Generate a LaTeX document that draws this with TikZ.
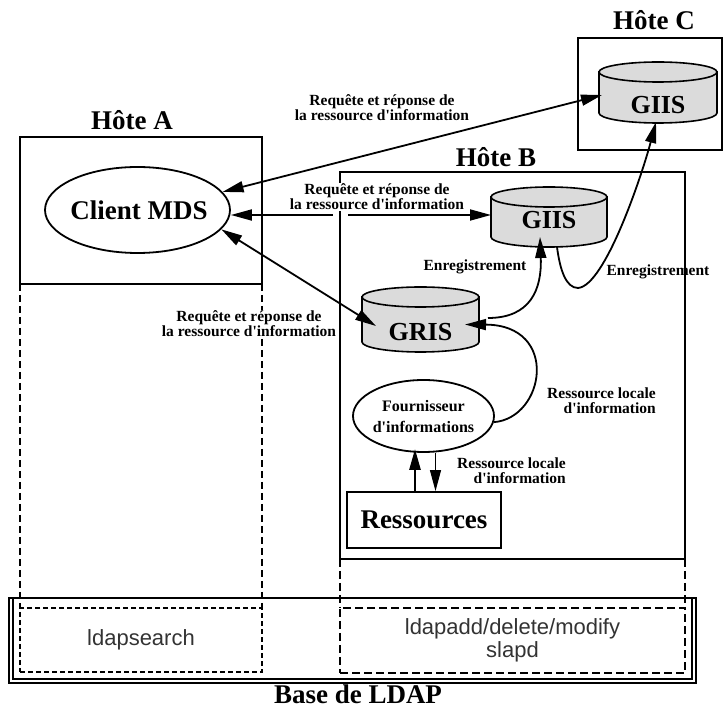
\documentclass[tikz,border=0pt]{standalone}
\usepackage{fontspec}
\setmainfont{Liberation Serif}[Ligatures=TeXOff]
\newfontfamily\ldapsans{Liberation Sans}
\usetikzlibrary{arrows.meta,shapes.geometric,calc}

\newcommand\mybig{\fontsize{27}{30}\selectfont\bfseries}
\newcommand\mygiis{\fontsize{26}{30}\selectfont\bfseries}
\newcommand\mylbl{\fontsize{15.5}{15}\selectfont\bfseries}
\newcommand\myfour{\fontsize{16}{21}\selectfont\bfseries}
\newcommand\mysans{\ldapsans\fontsize{22}{23}\selectfont}

% name, x1, y1, x2, y2, text, text y
\newcommand\dbcyl[7]{%
  \pgfmathsetmacro\cylcx{(#2+#4)/2}%
  \pgfmathsetmacro\cylrx{(#4-#2)/2}%
  \filldraw[cyl] (#2,{#3+10}) -- (#2,{#5-10})
    .. controls (#2,{#5-4.48}) and ({\cylcx-0.5523*\cylrx},#5) .. (\cylcx,#5)
    .. controls ({\cylcx+0.5523*\cylrx},#5) and (#4,{#5-4.48}) .. (#4,{#5-10})
    -- (#4,{#3+10}) -- cycle;
  \filldraw[cyl] (\cylcx,{#3+10}) ellipse [x radius=\cylrx pt, y radius=10pt];
  \node[inner sep=0, outer sep=0, minimum width={(#4-#2)*1pt}, minimum height={(#5-#3)*1pt}] (#1) at (\cylcx,{(#3+#5)/2}) {};
  \node[font=\mygiis, inner sep=0] (#1-t) at (\cylcx,#7) {#6};
}

\tikzset{
  cyl/.style={fill=black!14, draw=black, line width=1.6pt},
  hostbox/.style={draw, line width=2pt, inner sep=0, outer sep=0},
  arr/.style={line width=1.8pt},
  lbl/.style={font=\mylbl, align=center, inner sep=1pt},
  dashA/.style={line width=1.3pt, dash pattern=on 7pt off 4pt},
  dashAbox/.style={draw, line width=2pt, dash pattern=on 5pt off 3pt, inner sep=0, outer sep=0},
  dashB/.style={line width=1.1pt, dash pattern=on 8pt off 4pt},
  dashBbox/.style={draw, line width=1.1pt, dash pattern=on 8pt off 4pt, inner sep=0, outer sep=0},
}

\begin{document}
\begin{tikzpicture}[x=1pt,y=-1pt, >={Triangle[length=21pt,width=11pt]}]
\useasboundingbox (0,0) rectangle (724,708);

% LDAP base
\node[draw, line width=1.2pt, minimum width=687pt, minimum height=85pt, inner sep=0, outer sep=0] (base) at (352.5,640.5) {};
\node[draw, line width=1.2pt, minimum width=679pt, minimum height=81pt, inner sep=0, outer sep=0] (baseIn) at (352.5,638.5) {};
\node[font=\mybig, inner sep=0] (baseT) at (358,694) {Base de LDAP};

\node[dashAbox, minimum width=242pt, minimum height=64pt, font=\mysans, text=black!80] (lsearch) at (141,640) {ldapsearch};
\node[dashBbox, minimum width=345pt, minimum height=65pt, font=\mysans, text=black!80, align=center] (ladd) at (512.5,640.5) {ldapadd/delete/modify\\slapd};

% shapes
\node[draw, ellipse, line width=1.8pt, minimum width=185pt, minimum height=86pt, inner sep=0] (client) at (137.5,210) {};
\node[font=\mybig, inner sep=0] (clientT) at (139,210) {Client MDS};

\dbcyl{giisC}{599}{62}{717}{123}{GIIS}{105}
\dbcyl{giisB}{491}{187}{607}{247}{GIIS}{220}
\dbcyl{gris}{362}{287}{479}{352}{GRIS}{332}

\node[draw, ellipse, line width=1.8pt, minimum width=141pt, minimum height=72pt, inner sep=0] (fourn) at (423.5,416) {};
\node[font=\myfour, align=center, inner sep=0] (fournT) at (423.5,416.5) {Fournisseur\\d'informations};

\node[draw, line width=1.8pt, minimum width=154pt, minimum height=56pt, inner sep=0, font=\mybig] (res) at (424,520) {Ressources};

% connectors
\draw[arr,<->] (client.12) -- ([xshift=3pt,yshift=-2.5pt]giisC.west);
\draw[arr,<->] ([yshift=-5pt]client.east) -- ([yshift=-5pt]client.east -| giisB.west);
\draw[arr,<->] (client.-13) -- ([xshift=14pt,yshift=-6.5pt]gris.west);
\draw[white, line width=4pt] (333,215) -- (348,215);

\draw[arr,->] ([xshift=9pt,yshift=1.5pt]gris.east) .. controls (530,318) and (542,290) .. ([xshift=-9pt,yshift=10pt]giisB.south);
\draw[arr,->] ([xshift=8pt]giisB.south) .. controls (560,270) and (566,288) .. (578,288)
   .. controls (605,286) and (642,175) .. ([xshift=-2pt,yshift=1pt]giisC.south);
\draw[arr,->] (fourn.-5) .. controls (545,418) and (560,325) .. ([xshift=-14pt,yshift=-5pt]gris.east);
\draw[line width=2.5pt,->] ([xshift=-9pt]res.north) -- ([xshift=-9pt,yshift=4pt]res.north |- fourn.south);
\draw[line width=1.2pt,->] ([xshift=12pt]fourn.south) -- ([xshift=12pt]fourn.south |- res.north);

% hosts
\node[hostbox, minimum width=242pt, minimum height=147pt] (hostA) at (141,210.5) {};
\node[hostbox, minimum width=345pt, minimum height=387pt] (hostB) at (512.5,365.5) {};
\node[hostbox, minimum width=144pt, minimum height=112pt] (hostC) at (650,94) {};
\node[font=\mybig, inner sep=0] (hostAt) at (132,120) {Hôte A};
\node[font=\mybig, inner sep=0] (hostBt) at (496,157) {Hôte B};
\node[font=\mybig, inner sep=0] (hostCt) at (654,20) {Hôte C};

\draw[dashA] (hostA.south west) -- (hostA.south west |- lsearch.north);
\draw[dashA] (hostA.south east) -- (hostA.south east |- lsearch.north);
\draw[dashB] (hostB.south west) -- (hostB.south west |- ladd.north);
\draw[dashB] (hostB.south east) -- (hostB.south east |- ladd.north);

% labels
\node[lbl] (l1) at (382,107.5) {Requête et réponse de\\la ressource d'information};
\node[lbl, fill=white] (l2) at (377,197) {Requête et réponse de\\la ressource d'information};
\node[lbl, fill=white] (l3) at (249,324) {Requête et réponse de\\la ressource d'information};
\node[lbl] (l4) at (475,267) {Enregistrement};
\node[lbl] (l5) at (658,272) {Enregistrement};
\node[lbl, align=right, anchor=east] (l6) at (657,400.5) {Ressource locale\\d'information};
\node[lbl, align=right, anchor=east] (l7) at (567,470.5) {Ressource locale\\d'information};
\end{tikzpicture}
\end{document}
